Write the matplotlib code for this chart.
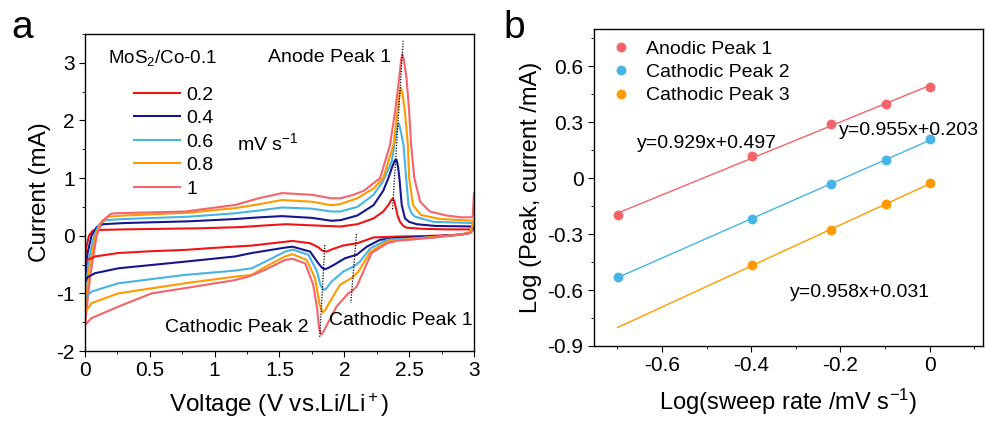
import numpy as np
import matplotlib
matplotlib.use('Agg')
import matplotlib.pyplot as plt
from matplotlib.ticker import MultipleLocator, FuncFormatter

plt.rcParams.update({
    'font.family': 'Liberation Sans',
    'font.size': 14,
    'mathtext.fontset': 'custom',
    'mathtext.rm': 'Liberation Sans',
    'mathtext.it': 'Liberation Sans:italic',
    'axes.unicode_minus': False,
    'axes.linewidth': 1.0,
    'xtick.direction': 'out',
    'ytick.direction': 'out',
    'xtick.labelsize': 15,
    'ytick.labelsize': 15,
    'xtick.major.size': 4,
    'ytick.major.size': 4,
    'xtick.minor.size': 2.5,
    'ytick.minor.size': 2.5,
})

# ---- CV curves: (voltage, current) for the positive and negative sweeps ----
rates = ['0.2', '0.4', '0.6', '0.8', '1']
colors = ['#f01414', '#16168e', '#46b4e6', '#ff9a00', '#f5646a']

v_up_02 = [0.0, 0.01, 0.03, 0.06, 0.1, 0.3, 0.6, 0.9, 1.2, 1.4, 1.55, 1.75, 1.97, 2.1, 2.225,
           2.3, 2.345, 2.362, 2.374, 2.386, 2.396, 2.412, 2.43, 2.455, 2.48, 2.6, 2.8, 3.0]
i_up_02 = [-0.45, -0.2, 0.0, 0.09, 0.10, 0.11, 0.12, 0.13, 0.15, 0.18, 0.20, 0.18, 0.16, 0.2, 0.30,
           0.42, 0.55, 0.62, 0.64, 0.60, 0.50, 0.34, 0.24, 0.17, 0.14, 0.12, 0.11, 0.11]
v_dn_02 = [3.0, 2.97, 2.9, 2.7, 2.5, 2.4, 2.225, 2.1, 1.99, 1.9, 1.865, 1.83, 1.80, 1.736, 1.6,
           1.29, 1.0, 0.77, 0.5, 0.257, 0.077, 0.02, 0.0]
i_dn_02 = [0.11, 0.05, 0.02, 0.0, -0.01, -0.015, -0.03, -0.13, -0.17, -0.24, -0.275, -0.26, -0.2,
           -0.13, -0.09, -0.17, -0.21, -0.246, -0.27, -0.30, -0.36, -0.42, -0.45]

v_up_04 = [0.0, 0.02, 0.05, 0.09, 0.14, 0.3, 0.8, 1.16, 1.35, 1.52, 1.75, 1.9, 1.97, 2.1, 2.225,
           2.3, 2.34, 2.37, 2.39, 2.402, 2.414, 2.425, 2.443, 2.468, 2.5, 2.558, 2.7, 3.0]
i_up_04 = [-0.8, -0.3, 0.0, 0.15, 0.2, 0.22, 0.25, 0.29, 0.32, 0.34, 0.31, 0.26, 0.27, 0.35, 0.53,
           0.78, 1.0, 1.2, 1.31, 1.32, 1.2, 1.0, 0.53, 0.30, 0.24, 0.2, 0.17, 0.16]
v_dn_04 = [3.0, 2.97, 2.9, 2.7, 2.5, 2.4, 2.276, 2.173, 2.096, 2.006, 1.916, 1.875, 1.852, 1.83,
           1.80, 1.736, 1.6, 1.543, 1.286, 1.157, 0.77, 0.257, 0.077, 0.02, 0.0]
i_dn_04 = [0.16, 0.05, 0.02, -0.01, -0.03, -0.04, -0.07, -0.19, -0.33, -0.39, -0.51, -0.56, -0.58,
           -0.56, -0.48, -0.275, -0.19, -0.206, -0.30, -0.36, -0.45, -0.565, -0.65, -0.72, -0.8]

v_up_06 = [0.0, 0.03, 0.07, 0.11, 0.16, 0.3, 0.8, 1.16, 1.35, 1.52, 1.75, 1.9, 1.97, 2.1, 2.225,
           2.30, 2.366, 2.395, 2.41, 2.42, 2.432, 2.456, 2.477, 2.495, 2.515, 2.546, 2.69, 3.0]
i_up_06 = [-1.08, -0.4, 0.0, 0.2, 0.27, 0.29, 0.33, 0.39, 0.44, 0.49, 0.47, 0.42, 0.42, 0.5, 0.71,
           0.95, 1.29, 1.7, 1.9, 1.95, 1.85, 1.58, 1.0, 0.53, 0.40, 0.33, 0.24, 0.22]
v_dn_06 = [3.0, 2.97, 2.9, 2.7, 2.5, 2.4, 2.33, 2.2, 2.12, 2.07, 1.993, 1.90, 1.86, 1.84, 1.815,
           1.79, 1.723, 1.6, 1.543, 1.39, 1.286, 1.157, 0.77, 0.257, 0.05, 0.0]
i_dn_06 = [0.22, 0.06, 0.02, -0.02, -0.05, -0.06, -0.07, -0.22, -0.45, -0.536, -0.62, -0.80, -0.92,
           -0.94, -0.85, -0.62, -0.33, -0.24, -0.276, -0.45, -0.565, -0.605, -0.68, -0.825, -0.97,
           -1.08]

v_up_08 = [0.0, 0.03, 0.08, 0.12, 0.18, 0.3, 0.8, 1.16, 1.35, 1.52, 1.75, 1.9, 1.97, 2.1, 2.225,
           2.30, 2.38, 2.41, 2.425, 2.437, 2.45, 2.467, 2.49, 2.50, 2.53, 2.59, 2.74, 3.0]
i_up_08 = [-1.33, -0.6, 0.0, 0.22, 0.33, 0.35, 0.40, 0.48, 0.55, 0.62, 0.59, 0.53, 0.55, 0.65, 0.82,
           1.0, 1.58, 2.16, 2.45, 2.57, 2.45, 2.16, 1.58, 1.0, 0.53, 0.36, 0.29, 0.26]
v_dn_08 = [3.0, 2.97, 2.9, 2.7, 2.5, 2.4, 2.33, 2.2, 2.11, 2.058, 1.967, 1.89, 1.85, 1.832, 1.81,
           1.775, 1.71, 1.6, 1.543, 1.39, 1.286, 1.157, 0.77, 0.257, 0.05, 0.0]
i_dn_08 = [0.26, 0.06, 0.02, -0.02, -0.06, -0.08, -0.10, -0.28, -0.62, -0.73, -0.85, -1.14, -1.30,
           -1.33, -1.2, -0.74, -0.42, -0.32, -0.36, -0.54, -0.68, -0.71, -0.825, -1.0, -1.17, -1.33]

v_up_1 = [0.0, 0.04, 0.09, 0.13, 0.2, 0.23, 0.77, 1.16, 1.34, 1.52, 1.75, 1.90, 1.97, 2.07, 2.15,
          2.276, 2.353, 2.392, 2.423, 2.438, 2.448, 2.46, 2.48, 2.50, 2.515, 2.54, 2.585, 2.66,
          2.79, 2.9, 2.99, 3.0]
i_up_1 = [-1.55, -0.7, 0.0, 0.25, 0.38, 0.39, 0.42, 0.535, 0.65, 0.74, 0.71, 0.65, 0.65, 0.71, 0.78,
          1.0, 1.58, 2.16, 2.73, 3.05, 3.15, 3.05, 2.73, 2.16, 1.58, 1.0, 0.59, 0.42, 0.35, 0.32,
          0.32, 0.74]
v_dn_1 = [3.0, 2.97, 2.9, 2.7, 2.5, 2.4, 2.33, 2.21, 2.135, 2.096, 2.06, 2.03, 1.94, 1.865, 1.835,
          1.82, 1.805, 1.79, 1.76, 1.698, 1.6, 1.543, 1.39, 1.26, 1.157, 0.77, 0.514, 0.257, 0.05,
          0.0]
i_dn_1 = [0.1, 0.05, 0.02, -0.03, -0.07, -0.09, -0.13, -0.30, -0.68, -0.88, -0.96, -1.0, -1.23,
          -1.55, -1.68, -1.71, -1.6, -1.26, -0.85, -0.48, -0.40, -0.42, -0.59, -0.71, -0.77, -0.91,
          -1.0, -1.23, -1.43, -1.55]

cv_up = [(v_up_02, i_up_02), (v_up_04, i_up_04), (v_up_06, i_up_06), (v_up_08, i_up_08), (v_up_1, i_up_1)]
cv_dn = [(v_dn_02, i_dn_02), (v_dn_04, i_dn_04), (v_dn_06, i_dn_06), (v_dn_08, i_dn_08), (v_dn_1, i_dn_1)]

# guide lines through the peak positions
anode_guide = ([2.372, 2.454], [0.46, 3.38])
cath2_guide = ([1.85, 1.81], [-0.16, -1.78])
cath1_guide = ([2.094, 2.05], [0.03, -1.17])

# ---- peak current vs sweep rate (log-log) ----
log_rate = [-0.699, -0.398, -0.222, -0.097, 0.0]
log_anodic1 = [-0.195, 0.118, 0.288, 0.398, 0.491]
log_cathodic2 = [-0.529, -0.221, -0.032, 0.096, 0.211]
log_rate_c3 = [-0.398, -0.222, -0.097, 0.0]
log_cathodic3 = [-0.466, -0.279, -0.138, -0.027]
fit_text = ['y=0.929x+0.497', 'y=0.955x+0.203', 'y=0.958x+0.031']
b_colors = ['#f5646a', '#46b4e6', '#ff9a00']

fig = plt.figure(figsize=(9.86, 4.25), dpi=100)

# ================= panel a =================
ax = fig.add_axes([0.0862, 0.1741, 0.3945, 0.7459])
for (v, i), c, lab in zip(cv_up, colors, rates):
    ax.plot(v, i, color=c, lw=1.5, label=lab, solid_joinstyle='round')
for (v, i), c in zip(cv_dn, colors):
    ax.plot(v, i, color=c, lw=1.5, solid_joinstyle='round')
for gx, gy in [anode_guide, cath2_guide, cath1_guide]:
    ax.plot(gx, gy, color='k', ls=(0, (1, 1.2)), lw=0.9)

ax.set_xlim(0, 3)
ax.set_ylim(-2, 3.5)
ax.xaxis.set_major_locator(MultipleLocator(0.5))
ax.xaxis.set_minor_locator(MultipleLocator(0.25))
ax.yaxis.set_major_locator(MultipleLocator(1))
ax.yaxis.set_minor_locator(MultipleLocator(0.5))
fmt = FuncFormatter(lambda x, p: '%g' % round(x, 3))
ax.xaxis.set_major_formatter(fmt)
ax.yaxis.set_major_formatter(fmt)
ax.tick_params(which='both', top=False, right=False)
ax.set_xlabel('Voltage (V vs.Li/Li$\\mathregular{^+}$)', fontsize=17.5, labelpad=8)
ax.set_ylabel('Current (mA)', fontsize=17.5, labelpad=4)

ax.legend(loc='upper left', bbox_to_anchor=(0.105, 0.86), frameon=False,
          handlelength=2.4, handletextpad=0.3, labelspacing=0.3, fontsize=14,
          borderaxespad=0)
ax.text(0.06, 0.925, 'MoS$\\mathregular{_2}$/Co-0.1', transform=ax.transAxes,
        fontsize=13.5, ha='left', va='center')
ax.text(0.47, 0.925, 'Anode Peak 1', transform=ax.transAxes,
        fontsize=14, ha='left', va='center')
ax.text(0.39, 0.655, 'mV s$\\mathregular{^{-1}}$', transform=ax.transAxes,
        fontsize=14, ha='left', va='center')
ax.text(0.205, 0.075, 'Cathodic Peak 2', transform=ax.transAxes,
        fontsize=14, ha='left', va='center')
ax.text(0.628, 0.095, 'Cathodic Peak 1', transform=ax.transAxes,
        fontsize=14, ha='left', va='center')
fig.text(0.022, 0.935, 'a', fontsize=28, ha='center', va='center')

# ================= panel b =================
bx = fig.add_axes([0.6024, 0.1859, 0.3945, 0.7459])
xs = [log_rate, log_rate, log_rate_c3]
ys = [log_anodic1, log_cathodic2, log_cathodic3]
names = ['Anodic Peak 1', 'Cathodic Peak 2', 'Cathodic Peak 3']
xfit = np.array([log_rate[0], log_rate[-1]])
for x, y, c, n in zip(xs, ys, b_colors, names):
    k, b0 = np.polyfit(x, y, 1)
    bx.plot(xfit, k * xfit + b0, color=c, lw=1.0)
    bx.plot(x, y, 'o', ms=6.5, color=c, mec=c, mew=0.6, label=n)

bx.set_xlim(-0.752, 0.119)
bx.set_ylim(-0.9, 0.8)
bx.xaxis.set_major_locator(MultipleLocator(0.2))
bx.xaxis.set_minor_locator(MultipleLocator(0.1))
bx.yaxis.set_major_locator(MultipleLocator(0.3))
bx.yaxis.set_minor_locator(MultipleLocator(0.15))
bx.xaxis.set_major_formatter(fmt)
bx.yaxis.set_major_formatter(fmt)
bx.tick_params(which='both', top=False, right=False)
bx.set_xlabel('Log(sweep rate /mV s$\\mathregular{^{-1}}$)', fontsize=17, labelpad=8)
bx.set_ylabel('Log (Peak, current /mA)', fontsize=17, labelpad=4)
bx.legend(loc='upper left', bbox_to_anchor=(0.0, 0.99), frameon=False,
          handletextpad=0.3, labelspacing=0.3, fontsize=14, borderaxespad=0)

bx.text(0.11, 0.64, fit_text[0], transform=bx.transAxes, fontsize=14, ha='left', va='center')
bx.text(0.63, 0.68, fit_text[1], transform=bx.transAxes, fontsize=14, ha='left', va='center')
bx.text(0.505, 0.17, fit_text[2], transform=bx.transAxes, fontsize=14, ha='left', va='center')
fig.text(0.522, 0.935, 'b', fontsize=28, ha='center', va='center')

fig.savefig('out.png', dpi=100)
